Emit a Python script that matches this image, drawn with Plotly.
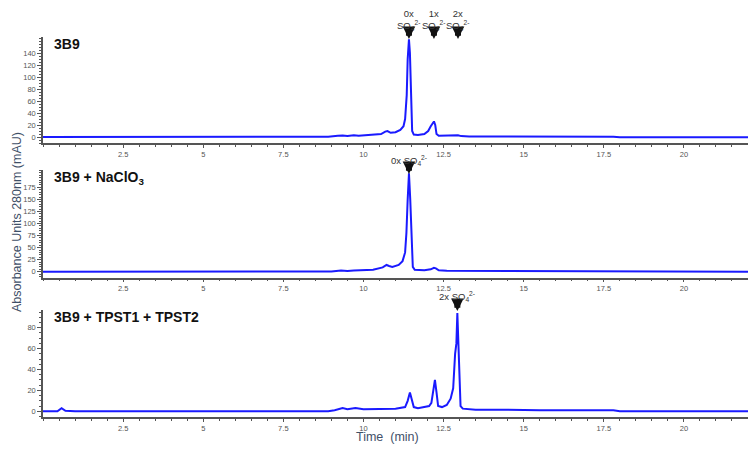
import plotly.graph_objects as go

# ---- data ----
t1 = [0, 2, 4, 6, 8, 8.9, 9.2, 9.35, 9.5, 9.7, 9.85, 10.0, 10.3, 10.55, 10.68, 10.75, 10.85, 11.0,
      11.15, 11.25, 11.3, 11.35, 11.38, 11.42, 11.45, 11.48, 11.52, 11.57, 11.7, 11.9, 12.02, 12.1,
      12.16, 12.2, 12.24, 12.28, 12.35, 12.6, 12.85, 12.95, 13.05, 13.3, 14.0, 14.5, 14.6, 14.75,
      16.0, 17.8, 18.0, 20.0, 22.0]
y1 = [0, 0, 0, 0, 0, 0.5, 2, 2.5, 1.5, 3, 2, 2.5, 3, 5, 9, 10, 7, 8,
      12, 18, 30, 70, 130, 163, 140, 60, 10, 4, 3.5, 5, 10, 18,
      24, 26, 20, 5, 2, 2, 2.5, 3, 1.5, 1, 1, 1, 1.5, 0.5,
      0.5, 0.5, -0.5, -0.5, -0.5]

t2 = [0, 2, 4, 6, 8, 9.0, 9.3, 9.5, 9.7, 10.0, 10.3, 10.6, 10.72, 10.8, 10.9, 11.1, 11.22, 11.3,
      11.34, 11.38, 11.42, 11.46, 11.5, 11.54, 11.6, 11.9, 12.1, 12.2, 12.26, 12.35, 12.6, 14.0,
      16.0, 17.8, 18.0, 20.0, 22.0]
y2 = [0, 0, 0, 0, 0, 0.5, 2.5, 1.5, 2.5, 3, 4, 9, 14, 12, 10, 14, 22, 40,
      80, 150, 204, 150, 60, 10, 4, 3, 5, 8, 7, 3, 2, 1.5,
      1.5, 1.5, 0, 0, 0]

t3 = [0, 0.45, 0.58, 0.7, 1.0, 4, 8, 8.9, 9.1, 9.35, 9.5, 9.75, 10.0, 10.5, 11.0, 11.3, 11.38, 11.45,
      11.5, 11.57, 11.7, 11.9, 12.05, 12.12, 12.18, 12.23, 12.28, 12.33, 12.45, 12.6, 12.72, 12.8,
      12.86, 12.9, 12.93, 12.96, 12.99, 13.03, 13.1, 13.5, 14.5, 15.5, 17.8, 18.0, 20.0, 22.0]
y3 = [0, 0, 3, 0.5, 0, 0, 0, 0, 1, 3, 2, 3, 2, 2, 2.5, 4, 10, 18,
      12, 4, 3, 4, 5, 8, 20, 30, 18, 5, 4, 6, 12, 22,
      55, 65, 94, 70, 30, 5, 2.5, 1.5, 1.5, 1, 1, 0, 0, 0]

panel_labels = ["<b>3B9</b>", "<b>3B9 + NaClO<sub>3</sub></b>", "<b>3B9 + TPST1 + TPST2</b>"]
y_ranges = [[-10, 167], [-12, 211], [-5.5, 97]]
y_ticks = [[0, 20, 40, 60, 80, 100, 120, 140],
           [0, 25, 50, 75, 100, 125, 150, 175],
           [0, 20, 40, 60, 80]]
x_ticks = [2.5, 5, 7.5, 10, 12.5, 15, 17.5, 20]
x_ticktext = ["2.5", "5", "7.5", "10", "12.5", "15", "17.5", "20"]

# peak markers: (panel, time, label)
peak_panel = [1, 1, 1, 2, 3]
peak_time = [11.42, 12.2, 12.95, 11.42, 12.93]
peak_text = ["0x<br>SO<sub>4</sub><sup>2-</sup>", "1x<br>SO<sub>4</sub><sup>2-</sup>",
             "2x<br>SO<sub>4</sub><sup>2-</sup>", "0x SO<sub>4</sub><sup>2-</sup>",
             "2x SO<sub>4</sub><sup>2-</sup>"]

# ---- layout geometry (page body adds an 8px offset) ----
OFF = 8
W, H = 756 - OFF, 449 - OFF


def px_x(p):
    return (p - OFF) / W


def px_y(p):
    return 1 - (p - OFF) / H


x_dom = [px_x(43), px_x(748)]
y_px = [(37, 143), (170, 277.5), (310, 417)]
y_doms = [[px_y(b), px_y(t)] for t, b in y_px]
tip_px = [39, 174, 311]
text_px = {1: 20, 2: 160, 3: 296}

fig = go.Figure()
series = [(t1, y1), (t2, y2), (t3, y3)]
axis_col = "#555555"
tick_font = dict(family="Liberation Sans, Arial", size=7.5, color="#555555")

for i, (tt, yy) in enumerate(series):
    n = i + 1
    xa = "x" if n == 1 else f"x{n}"
    ya = "y" if n == 1 else f"y{n}"
    fig.add_trace(go.Scatter(x=tt, y=yy, mode="lines", xaxis=xa, yaxis=ya,
                             line=dict(color="#1a1aff", width=2), showlegend=False,
                             hoverinfo="skip"))
    xkey = "xaxis" if n == 1 else f"xaxis{n}"
    ykey = "yaxis" if n == 1 else f"yaxis{n}"
    fig.layout[xkey] = dict(domain=x_dom, anchor=ya, range=[0, 22], showgrid=False, zeroline=False,
                            showline=True, linecolor=axis_col, linewidth=1.5,
                            tickvals=x_ticks, ticktext=x_ticktext, ticks="outside", ticklen=3,
                            tickcolor=axis_col, tickfont=tick_font,
                            minor=dict(ticks="outside", dtick=0.5, tick0=0, ticklen=2, tickcolor=axis_col))
    fig.layout[ykey] = dict(domain=y_doms[i], anchor=xa, range=y_ranges[i], showgrid=False,
                            zeroline=False, showline=True, linecolor=axis_col, linewidth=1.5,
                            tickvals=y_ticks[i], ticks="outside", ticklen=4, tickcolor=axis_col,
                            tickfont=tick_font,
                            minor=dict(ticks="outside", dtick=5, tick0=0, ticklen=2, tickcolor=axis_col))
    fig.add_annotation(text=panel_labels[i], xref="paper", yref=f"{ya} domain",
                       x=px_x(52), y=0.93, xanchor="left", yanchor="middle", showarrow=False,
                       font=dict(family="Liberation Sans, Arial", size=14, color="#111111"))

for p, tx, lab in zip(peak_panel, peak_time, peak_text):
    xa = "x" if p == 1 else f"x{p}"
    fig.add_annotation(x=tx, xref=xa, y=px_y(tip_px[p - 1]), yref="paper", text="",
                       showarrow=True, ax=0, ay=-9, arrowhead=2, arrowsize=0.42, arrowwidth=6,
                       arrowcolor="#111111", standoff=0)
    fig.add_annotation(x=tx, xref=xa, y=px_y(text_px[p]), yref="paper", text=lab,
                       showarrow=False, xanchor="center", yanchor="middle",
                       font=dict(family="Liberation Sans, Arial", size=9.5, color="#333333"))

fig.add_annotation(text="Absorbance Units 280nm (mAU)", xref="paper", yref="paper",
                   x=0, y=px_y(222), textangle=-90, showarrow=False,
                   xanchor="left", yanchor="middle",
                   font=dict(family="Liberation Sans, Arial", size=12.5, color="#3f5068"))
fig.add_annotation(text="Time  (min)", xref="paper", yref="paper",
                   x=px_x(387), y=px_y(437), showarrow=False,
                   xanchor="center", yanchor="middle",
                   font=dict(family="Liberation Sans, Arial", size=12.5, color="#3f5068"))

fig.update_layout(width=W, height=H, margin=dict(l=0, r=0, t=0, b=0),
                  plot_bgcolor="white", paper_bgcolor="white")

fig.write_html("out.html")
